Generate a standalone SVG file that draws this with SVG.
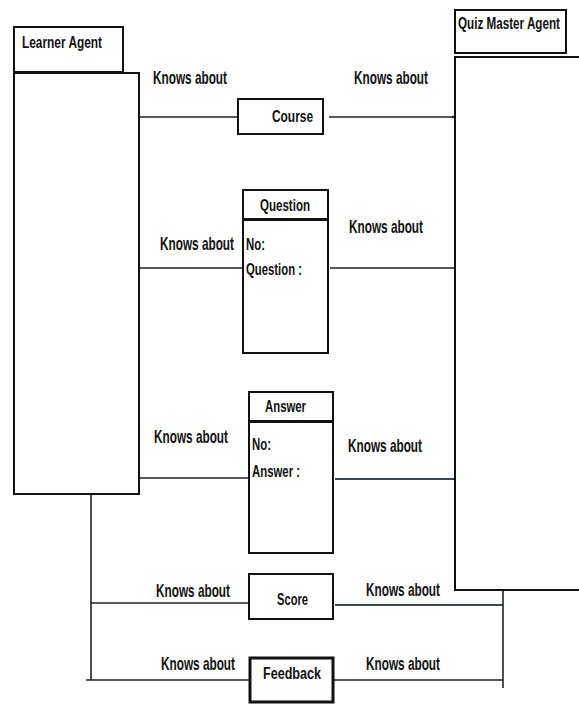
<svg xmlns="http://www.w3.org/2000/svg" width="579" height="705" viewBox="0 0 579 705">
<style>
.box{fill:#fff;stroke:#111;stroke-width:2}
.thick{fill:#fff;stroke:#111;stroke-width:3}
.ln{fill:none;stroke:#222;stroke-width:1.6}
.ln2{fill:none;stroke:#3a4654;stroke-width:2}
text{font-family:"Liberation Sans",Arial,sans-serif;font-weight:bold;fill:#111;font-size:12px}
</style>
<defs>
<marker id="dot" markerWidth="4" markerHeight="4" refX="2" refY="2" markerUnits="userSpaceOnUse"><circle cx="2" cy="2" r="1.3" fill="#222"/></marker>
</defs>
<rect width="579" height="705" fill="#fff"/>
<g id="connectors">
<line class="ln" x1="139" y1="117" x2="238" y2="117" marker-end="url(#dot)"/>
<line class="ln" x1="329" y1="117" x2="453" y2="117" marker-end="url(#dot)"/>
<line class="ln" x1="139" y1="268" x2="243" y2="268"/>
<line class="ln" x1="330" y1="268" x2="454" y2="268"/>
<line class="ln" x1="139" y1="478" x2="249" y2="478"/>
<line class="ln2" x1="335" y1="479" x2="454" y2="479"/>
<line class="ln" x1="91" y1="494" x2="91" y2="680"/>
<line class="ln" x1="91" y1="603" x2="249" y2="603"/>
<line class="ln2" x1="335" y1="605" x2="503" y2="605"/>
<line class="ln" x1="503" y1="590" x2="503" y2="688"/>
<line class="ln" x1="86" y1="680" x2="249" y2="680"/>
<line class="ln" x1="333" y1="680" x2="503" y2="680"/>
</g>
<g id="learner-agent">
<rect class="box" x="14" y="27" width="109" height="45"/>
<rect class="box" x="14" y="73" width="125" height="421"/>
<text transform="translate(22 48) scale(1 1.45)" textLength="80" lengthAdjust="spacingAndGlyphs">Learner Agent</text>
</g>
<g id="quiz-master-agent">
<rect class="box" x="455" y="10" width="111" height="43"/>
<rect class="box" x="455" y="57" width="130" height="533"/>
<text transform="translate(458 29) scale(1 1.45)" textLength="102" lengthAdjust="spacingAndGlyphs">Quiz Master Agent</text>
</g>
<g id="course">
<rect class="box" x="238" y="99" width="85" height="35"/>
<text transform="translate(272 122) scale(1 1.45)" textLength="41" lengthAdjust="spacingAndGlyphs">Course</text>
</g>
<g id="question">
<rect class="box" x="243" y="190" width="85" height="29"/>
<rect class="box" x="243" y="220" width="85" height="133"/>
<text transform="translate(260 211) scale(1 1.45)" textLength="50" lengthAdjust="spacingAndGlyphs">Question</text>
<text transform="translate(246 250) scale(1 1.4)" textLength="19" lengthAdjust="spacingAndGlyphs">No:</text>
<text transform="translate(246 275) scale(1 1.4)" textLength="56" lengthAdjust="spacingAndGlyphs">Question :</text>
</g>
<g id="answer">
<rect class="box" x="249" y="392" width="84" height="29"/>
<rect class="box" x="249" y="422" width="84" height="131"/>
<text transform="translate(265 412) scale(1 1.45)" textLength="41" lengthAdjust="spacingAndGlyphs">Answer</text>
<text transform="translate(252 450) scale(1 1.4)" textLength="19" lengthAdjust="spacingAndGlyphs">No:</text>
<text transform="translate(252 477) scale(1 1.4)" textLength="48" lengthAdjust="spacingAndGlyphs">Answer :</text>
</g>
<g id="score">
<rect class="box" x="249" y="574" width="84" height="45"/>
<text transform="translate(277 605) scale(1 1.45)" textLength="31" lengthAdjust="spacingAndGlyphs">Score</text>
</g>
<g id="feedback">
<rect class="thick" x="250" y="658" width="83" height="44"/>
<text transform="translate(263 679) scale(1 1.45)" textLength="58" lengthAdjust="spacingAndGlyphs">Feedback</text>
</g>
<g id="labels">
<text transform="translate(153 84) scale(1 1.55)" textLength="74" lengthAdjust="spacingAndGlyphs">Knows about</text>
<text transform="translate(354 84) scale(1 1.55)" textLength="74" lengthAdjust="spacingAndGlyphs">Knows about</text>
<text transform="translate(160 250) scale(1 1.55)" textLength="74" lengthAdjust="spacingAndGlyphs">Knows about</text>
<text transform="translate(349 233) scale(1 1.55)" textLength="74" lengthAdjust="spacingAndGlyphs">Knows about</text>
<text transform="translate(154 443) scale(1 1.55)" textLength="74" lengthAdjust="spacingAndGlyphs">Knows about</text>
<text transform="translate(348 452) scale(1 1.55)" textLength="74" lengthAdjust="spacingAndGlyphs">Knows about</text>
<text transform="translate(156 597) scale(1 1.55)" textLength="74" lengthAdjust="spacingAndGlyphs">Knows about</text>
<text transform="translate(366 596) scale(1 1.55)" textLength="74" lengthAdjust="spacingAndGlyphs">Knows about</text>
<text transform="translate(161 670) scale(1 1.55)" textLength="74" lengthAdjust="spacingAndGlyphs">Knows about</text>
<text transform="translate(366 670) scale(1 1.55)" textLength="74" lengthAdjust="spacingAndGlyphs">Knows about</text>
</g>
</svg>
